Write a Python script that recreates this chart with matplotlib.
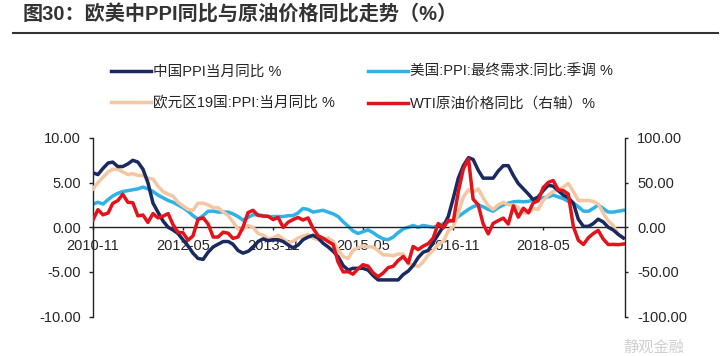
import pandas as pd
import matplotlib
matplotlib.use("Agg")
import matplotlib.pyplot as plt
from matplotlib.lines import Line2D

plt.rcParams['font.family'] = ['Liberation Sans', 'Noto Sans CJK SC', 'DejaVu Sans']
plt.rcParams['axes.unicode_minus'] = False

# 月度数据 2010-11 ~ 2019-09
dates = pd.date_range('2010-11-01', periods=107, freq='MS')

cn_ppi = [6.1, 5.9,
          6.6, 7.2, 7.3, 6.8, 6.8, 7.1, 7.5, 7.3, 6.5, 5.0, 2.7, 1.7,
          0.7, 0.0, -0.3, -0.7, -1.4, -2.1, -2.9, -3.5, -3.6, -2.8, -2.2, -1.9,
          -1.6, -1.6, -1.9, -2.6, -2.9, -2.7, -2.3, -1.6, -1.3, -1.5, -1.4, -1.4,
          -1.6, -2.0, -2.3, -2.0, -1.4, -1.1, -0.9, -1.2, -1.8, -2.2, -2.7, -3.3,
          -4.3, -4.8, -4.6, -4.6, -4.6, -4.8, -5.4, -5.9, -5.9, -5.9, -5.9, -5.9,
          -5.3, -4.9, -4.3, -3.4, -2.8, -2.6, -1.7, -0.8, 0.1, 1.2, 3.3, 5.5,
          6.9, 7.8, 7.6, 6.4, 5.5, 5.5, 5.5, 6.3, 6.9, 6.9, 5.8, 4.9,
          4.3, 3.7, 3.1, 3.4, 4.1, 4.7, 4.6, 4.1, 3.6, 3.3, 2.7, 0.9,
          0.1, 0.1, 0.4, 0.9, 0.6, 0.0, -0.3, -0.8, -1.2]

us_ppi = [2.6, 2.8,
          2.6, 3.1, 3.5, 3.8, 4.0, 4.1, 4.2, 4.3, 4.5, 4.3, 4.0, 3.6,
          3.3, 3.0, 2.8, 2.5, 2.2, 1.8, 1.3, 0.9, 1.3, 1.8, 1.8, 1.7,
          1.7, 1.7, 1.5, 1.2, 0.8, 1.1, 1.4, 1.4, 1.3, 1.2, 1.2, 1.2,
          1.2, 1.3, 1.3, 1.6, 2.1, 2.0, 1.7, 1.8, 1.9, 1.7, 1.5, 1.2,
          0.6, 0.1, -0.4, -0.7, -0.5, -0.3, -0.6, -1.0, -1.3, -1.4, -1.1, -0.6,
          -0.2, 0.0, 0.2, 0.0, 0.2, 0.1, 0.0, 0.2, 0.4, 0.6, 0.8, 1.2,
          1.6, 2.0, 2.3, 2.5, 2.3, 2.0, 1.8, 2.2, 2.5, 2.7, 2.85, 2.9,
          2.85, 2.9, 3.1, 3.2, 3.3, 3.4, 3.6, 3.4, 3.2, 2.9, 2.7, 2.3,
          1.8, 1.8, 2.1, 2.5, 2.1, 1.7, 1.7, 1.8, 1.9]

eu_ppi = [4.3, 5.0,
          5.6, 6.2, 6.5, 6.5, 6.2, 5.9, 6.0, 5.8, 5.8, 5.5, 5.4, 4.6,
          4.0, 3.7, 3.5, 2.8, 2.4, 2.0, 1.9, 2.7, 2.7, 2.5, 2.2, 2.2,
          1.7, 1.3, 0.6, -0.2, -0.2, 0.2, 0.0, -0.7, -0.9, -1.3, -1.2, -0.9,
          -1.3, -1.7, -1.6, -1.2, -1.0, -0.8, -1.2, -1.4, -1.4, -1.2, -1.6, -2.5,
          -3.3, -3.5, -2.6, -2.3, -2.1, -2.2, -2.2, -2.6, -3.1, -3.1, -3.2, -3.0,
          -3.0, -4.1, -4.2, -4.4, -3.9, -3.1, -2.6, -1.9, -1.6, -0.4, 0.1, 1.6,
          3.4, 4.2, 3.9, 4.3, 3.3, 2.4, 2.0, 2.5, 2.8, 2.5, 2.5, 2.2,
          1.6, 1.6, 2.1, 2.0, 3.0, 3.6, 4.0, 4.2, 4.5, 4.9, 4.0, 3.0,
          3.0, 3.0, 2.9, 2.6, 1.6, 0.7, 0.2, -0.8, -1.2]

wti_yoy = [8.1, 19.7,
           13.9, 16.0, 26.7, 29.9, 36.9, 27.9, 27.5, 12.7, 13.7, 5.4, 15.3, 10.5,
           12.4, 15.3, 3.2, -5.7, -6.1, -14.5, -9.7, 9.0, 10.5, 3.7, -11.0, -10.9,
           -5.5, -6.8, -12.5, -10.9, -0.2, 16.4, 19.0, 13.3, 12.5, 12.3, 8.6, 11.0,
           -0.2, 5.8, 8.5, 11.0, 8.1, 10.4, -1.0, -9.5, -12.3, -16.0, -19.3, -39.2,
           -50.1, -49.8, -52.6, -46.6, -42.0, -43.5, -50.9, -55.5, -51.2, -45.3, -43.7, -37.3,
           -32.8, -40.1, -21.5, -25.1, -21.2, -18.4, -12.2, 4.2, -0.7, 7.8, 7.0, 39.8,
           65.6, 76.6, 31.5, 25.2, 3.9, -7.4, 4.3, 7.4, 10.2, 3.6, 23.9, 11.3,
           21.3, 16.3, 27.2, 29.7, 44.3, 50.2, 52.4, 41.9, 41.0, 37.2, 0.7, -14.5,
           -19.3, -11.6, -7.2, -3.6, -13.1, -19.4, -19.2, -19.5, -18.8]

tick_labels = ['2010-11', '2012-05', '2013-11', '2015-05', '2016-11', '2018-05']
labels = ['中国PPI当月同比 %', '美国:PPI:最终需求:同比:季调 %',
          '欧元区19国:PPI:当月同比 %', 'WTI原油价格同比（右轴）%']
colors = ['#1b2a5e', '#2fb2e6', '#f5c6a2', '#e3121b']

fig = plt.figure(figsize=(7.2, 3.56), dpi=100)
ax = fig.add_axes([93 / 720, 1 - 316.5 / 356, 532 / 720, 178.5 / 356])
ax2 = ax.twinx()

lw = 2.5
l_us, = ax.plot(dates, us_ppi, color=colors[1], lw=lw, zorder=2)
l_eu, = ax.plot(dates, eu_ppi, color=colors[2], lw=lw, zorder=3)
l_cn, = ax.plot(dates, cn_ppi, color=colors[0], lw=lw, zorder=4)
l_wti, = ax2.plot(dates, wti_yoy, color=colors[3], lw=lw)

ax.set_ylim(-10, 10)
ax.set_yticks([-10, -5, 0, 5, 10])
ax.set_yticklabels(['%.2f' % v for v in [-10, -5, 0, 5, 10]])
ax2.set_ylim(-100, 100)
ax2.set_yticks([-100, -50, 0, 50, 100])
ax2.set_yticklabels(['%.2f' % v for v in [-100, -50, 0, 50, 100]])

tick_dates = [pd.Timestamp(t + '-01') for t in tick_labels]
ax.set_xticks(tick_dates)
ax.set_xticklabels(tick_labels)
ax.set_xlim(dates[0], dates[-1] + pd.Timedelta(days=10))

for a in (ax, ax2):
    a.spines['top'].set_visible(False)
    a.patch.set_visible(False)
ax.spines['right'].set_visible(False)
ax2.spines['left'].set_visible(False)
ax2.spines['bottom'].set_visible(False)
ax.spines['bottom'].set_position(('data', 0))
for s in [ax.spines['left'], ax.spines['bottom'], ax2.spines['right']]:
    s.set_color('#222222')
    s.set_linewidth(1.0)

txt = '#262626'
ax.tick_params(axis='y', direction='out', length=3, width=1, pad=5.5,
               labelsize=10.5, colors='#222222', labelcolor=txt)
ax.tick_params(axis='x', direction='out', length=2.2, width=1, pad=6,
               labelsize=10.5, colors='#222222', labelcolor=txt)
ax2.tick_params(axis='y', direction='out', length=2.2, width=1, pad=6.5,
                labelsize=10.5, colors='#222222', labelcolor=txt)

# 标题与横线
fig.text(23 / 720, 1 - 4 / 356, '图30：欧美中PPI同比与原油价格同比走势（%）',
         fontsize=14.5, fontweight='bold', color='#333333', va='top', ha='left')
fig.add_artist(Line2D([12.7 / 720, 718 / 720], [1 - 33.3 / 356, 1 - 33.3 / 356],
                      color='#333333', lw=1.5, transform=fig.transFigure))

# 图例（两列）
leg_kw = dict(loc='upper left', frameon=False, fontsize=10.5, handlelength=2.75,
              handletextpad=0.15, labelspacing=1.2, borderpad=0, borderaxespad=0,
              labelcolor=txt)
fig.legend([l_cn, l_eu], [labels[0], labels[2]],
           bbox_to_anchor=(111 / 720, 1 - 65 / 356), **leg_kw)
fig.legend([l_us, l_wti], [labels[1], labels[3]],
           bbox_to_anchor=(368 / 720, 1 - 65 / 356), **leg_kw)

# 水印
fig.text(623 / 720, 1.5 / 356, '静观金融', fontsize=11, color='#d0d0d0',
         va='bottom', ha='left')

fig.savefig('out.png', dpi=100)
